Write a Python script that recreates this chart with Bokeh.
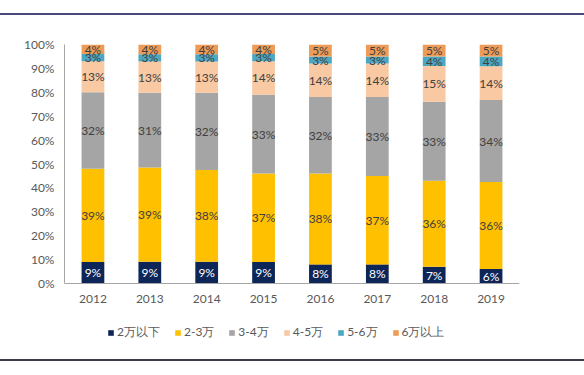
from bokeh.plotting import figure
from bokeh.models import (ColumnDataSource, Range1d, NumeralTickFormatter, FixedTicker,
                          Legend, LegendItem, LabelSet, Div, Spacer)
from bokeh.layouts import column
from bokeh.embed import file_html
from bokeh.resources import INLINE
from bokeh.core.properties import value

years = ["2012", "2013", "2014", "2015", "2016", "2017", "2018", "2019"]
series_names = ["2万以下", "2-3万", "3-4万", "4-5万", "5-6万", "6万以上"]
s_2w = [9, 9, 9, 9, 8, 8, 7, 6]
s_2_3w = [39, 39, 38, 37, 38, 37, 36, 36]
s_3_4w = [32, 31, 32, 33, 32, 33, 33, 34]
s_4_5w = [13, 13, 13, 14, 14, 14, 15, 14]
s_5_6w = [3, 3, 3, 3, 3, 3, 4, 4]
s_6w = [4, 4, 4, 4, 5, 5, 5, 5]
colors = ["#0E2558", "#FFC000", "#A5A5A5", "#F8C9A3", "#4CA8C2", "#EE9B58"]
label_colors = ["#FFFFFF", "#404040", "#404040", "#404040", "#404040", "#404040"]

series = [s_2w, s_2_3w, s_3_4w, s_4_5w, s_5_6w, s_6w]
keys = ["k%d" % i for i in range(len(series))]
totals = [sum(s[j] for s in series) for j in range(len(years))]

data = {"year": years}
for k, s in zip(keys, series):
    data[k] = [v / t for v, t in zip(s, totals)]
source = ColumnDataSource(data)

FONT = "Lato"

# plot frame: 0%..100% spans 239 px; extra room below 0 holds the axis labels and legend
FRAME_H = 315
y_start = -(FRAME_H - 239) / 239

p = figure(x_range=years, y_range=Range1d(y_start, 1.0), frame_width=455, frame_height=FRAME_H,
           output_backend="svg", toolbar_location=None,
           min_border_left=64, min_border_right=65, min_border_top=29, min_border_bottom=0)
p.outline_line_color = None
p.grid.grid_line_color = None
p.background_fill_color = "white"

renderers = p.vbar_stack(keys, x="year", width=0.4, color=colors, source=source,
                         line_color=None)

# data labels
for i, (k, s) in enumerate(zip(keys, series)):
    mids = []
    for j in range(len(years)):
        below = sum(data[kk][j] for kk in keys[:i])
        mids.append(below + data[k][j] / 2)
    lsrc = ColumnDataSource(dict(x=years, y=mids, t=["%d%%" % v for v in s]))
    p.add_layout(LabelSet(x="x", y="y", text="t", source=lsrc, text_align="center",
                          text_baseline="middle", text_font_size="12px",
                          text_font=value(FONT), text_color=label_colors[i]))

p.yaxis.ticker = FixedTicker(ticks=[i / 10 for i in range(11)])
p.yaxis.formatter = NumeralTickFormatter(format="0%")
p.yaxis.bounds = (0, 1)
p.xaxis.fixed_location = 0
for ax in (p.xaxis, p.yaxis):
    ax.major_tick_line_color = None
    ax.minor_tick_line_color = None
    ax.major_tick_out = 0
    ax.major_tick_in = 0
    ax.axis_line_color = "#A6A6A6"
    ax.major_label_text_font_size = "12px"
    ax.major_label_text_font = FONT
    ax.major_label_text_color = "#595959"
p.yaxis.major_label_standoff = 10
p.xaxis.major_label_standoff = 11

legend = Legend(items=[LegendItem(label=n, renderers=[r]) for n, r in zip(series_names, renderers)],
                orientation="horizontal", location=(43, 18), border_line_color=None,
                label_text_font_size="12px", label_text_font=FONT, label_text_color="#595959",
                glyph_width=7, glyph_height=7, label_standoff=3, spacing=14,
                label_height=14, padding=2, margin=0, background_fill_alpha=0)
p.add_layout(legend, "center")

top_rule = Div(width=584, height=2, margin=0, styles={"background-color": "#4A4A78"})
bottom_rule = Div(width=584, height=2, margin=0, styles={"background-color": "#3A3A48"})
layout = column(Spacer(width=584, height=13), top_rule, p, bottom_rule, spacing=0)

open("out.html", "w").write(file_html(layout, INLINE))
